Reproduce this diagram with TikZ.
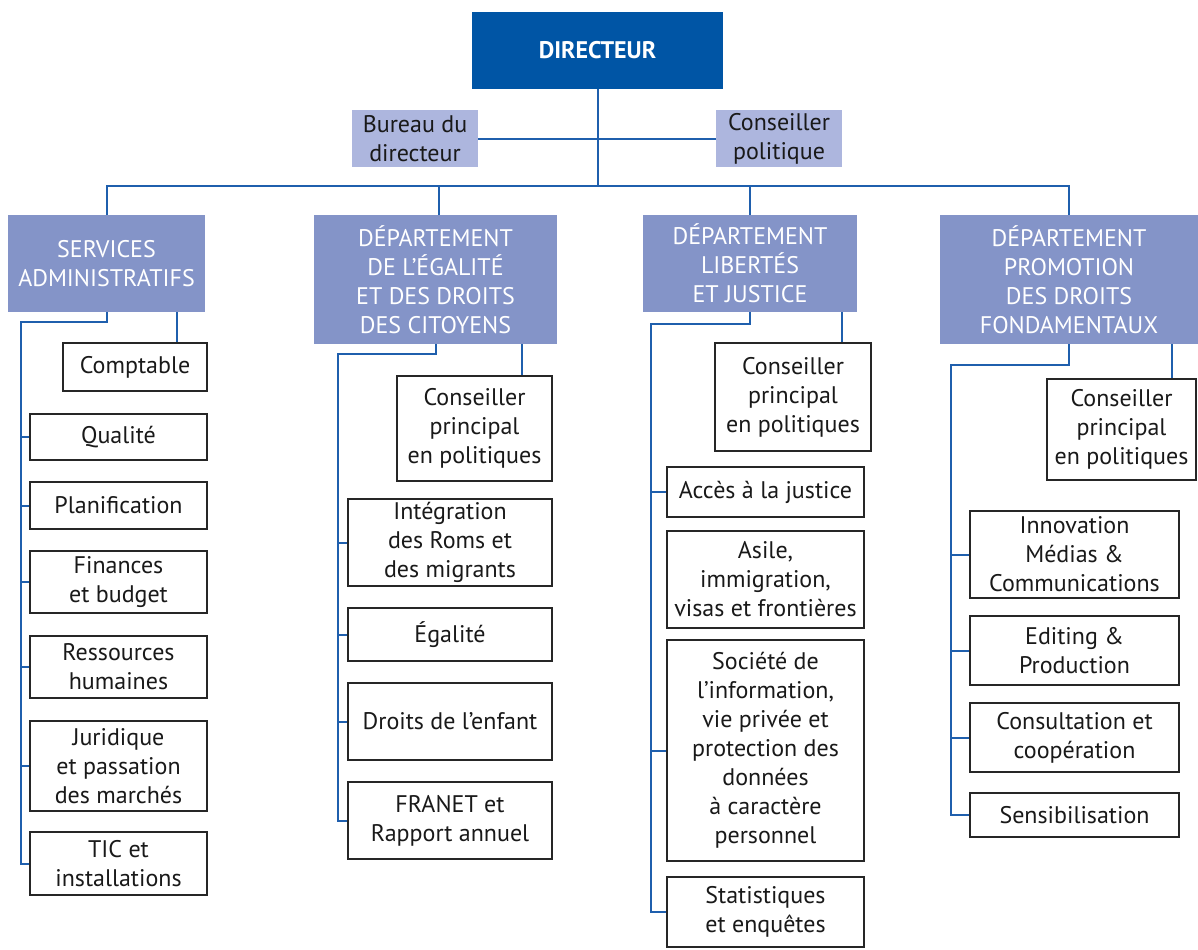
\documentclass[tikz,border=0pt]{standalone}
\usepackage{fontspec}
\setmainfont{PT Sans}
\usepackage{tikz}
\usetikzlibrary{calc}
\definecolor{chiefblue}{HTML}{0055A5}
\definecolor{deptblue}{HTML}{8494C8}
\definecolor{staffblue}{HTML}{ADB6DE}
\definecolor{linkblue}{HTML}{1F5FAD}
\tikzset{
  chief/.style 2 args={fill=chiefblue, text=white, font=\fontsize{12}{14}\selectfont\bfseries,
    minimum width=#1*0.5pt, minimum height=#2*0.5pt, inner sep=1pt},
  deptbox/.style 2 args={fill=deptblue, text=white, align=center,
    minimum width=#1*0.5pt, minimum height=#2*0.5pt, inner sep=1pt},
  staffbox/.style 2 args={fill=staffblue, text=black!90, align=center,
    minimum width=#1*0.5pt, minimum height=#2*0.5pt, inner sep=1pt},
  unitbox/.style 2 args={draw=black!85, line width=1pt, fill=white, text=black!90, align=center,
    minimum width=#1*0.5pt, minimum height=#2*0.5pt, inner sep=1pt},
  link/.style={draw=linkblue, line width=1pt}
}
\begin{document}
\begin{tikzpicture}[x=0.5pt, y=-0.5pt, font=\fontsize{12}{14.5}\selectfont]
			\useasboundingbox (0,0) rectangle (1198,949);
			%%%%% TOP %%%%%
			\node[chief={251}{77}] (dir) at (597.5,50.5) {DIRECTEUR};
			\node[staffbox={126}{57}] (bur) at (415,138.5) {Bureau du\\directeur};
			\node[staffbox={126}{57}] (pol) at (779,138.5) {Conseiller\\politique};
			\coordinate (bus) at (597.5,186);
			
			\node[deptbox={197}{97}] (srv) at (106.5,263.5) {SERVICES\\ADMINISTRATIFS};
			\node[deptbox={243}{129}] (ega) at (435.5,279.5) {DÉPARTEMENT\\DE L’ÉGALITÉ\\ET DES DROITS\\DES CITOYENS};
			\node[deptbox={214}{97}] (lib) at (750,263.5) {DÉPARTEMENT\\LIBERTÉS\\ET JUSTICE};
			\node[deptbox={258}{129}] (pro) at (1069,279.5) {DÉPARTEMENT\\PROMOTION\\DES DROITS\\FONDAMENTAUX};
			\coordinate (egaT) at (439,215);
			
			\draw[link] (bur) -- (pol);
			\draw[link] (dir.south) -- (bus);
			\draw[link] (srv.north) |- (bus) -| (pro.north);
			\draw[link] (egaT) -- (egaT |- bus);
			\draw[link] (lib.north) -- (lib.north |- bus);
			
			%%%%% SERVICES %%%%%
			\node[unitbox={144}{48}] (cpt) at (135,367) {Comptable};
			\node[unitbox={177}{46}] (qua) at (118.5,437) {Qualité};
			\node[unitbox={177}{47}] (pla) at (118.5,505.5) {Planification};
			\node[unitbox={177}{62}] (fin) at (118.5,582) {Finances\\et budget};
			\node[unitbox={177}{62}] (rh) at (118.5,667) {Ressources\\humaines};
			\node[unitbox={177}{90}] (jur) at (118.5,766) {Juridique\\et passation\\des marchés};
			\node[unitbox={177}{63}] (tic) at (118.5,863.5) {TIC et\\installations};
			\coordinate (srvL) at (21,322);
			\coordinate (srvR) at (176.5,312);
			\draw[link] (srv.south) |- (srvL) -- (srvL |- tic.west) -- (tic.west);
			\foreach \u in {qua,pla,fin,rh,jur}
				\draw[link] (srvL |- \u.west) -- (\u.west);
			\draw[link] (srvR) -- (srvR |- cpt.north);
			
			%%%%% EGALITE %%%%%
			\node[unitbox={155}{105}] (cpe) at (474.5,428.5) {Conseiller\\principal\\en politiques};
			\node[unitbox={204}{87}] (int) at (450,542.5) {Intégration\\des Roms et\\des migrants};
			\node[unitbox={204}{53}] (egl) at (450,634.5) {Égalité};
			\node[unitbox={204}{77}] (enf) at (450,721.5) {Droits de l’enfant};
			\node[unitbox={204}{77}] (fra) at (450,820.5) {FRANET et\\Rapport annuel};
			\coordinate (egaL) at (338,354);
			\coordinate (egaR) at (522,344);
			\draw[link] (ega.south) |- (egaL) -- (egaL |- fra.west) -- (fra.west);
			\foreach \u in {int,egl,enf}
				\draw[link] (egaL |- \u.west) -- (\u.west);
			\draw[link] (egaR) -- (egaR |- cpe.north);
			
			%%%%% LIBERTES %%%%%
			\node[unitbox={156}{108}] (cpl) at (793,397) {Conseiller\\principal\\en politiques};
			\node[unitbox={197}{50}] (acc) at (765.5,492) {Accès à la justice};
			\node[unitbox={197}{97}] (asi) at (765.5,579.5) {Asile,\\immigration,\\visas et frontières};
			\node[unitbox={197}{221}] (soc) at (765.5,750.5) {Société de\\l’information,\\vie privée et\\protection des\\données\\à caractère\\personnel};
			\node[unitbox={197}{70}] (sta) at (765.5,912) {Statistiques\\et enquêtes};
			\coordinate (libL) at (651,324);
			\coordinate (libR) at (842,312);
			\draw[link] (lib.south) |- (libL) -- (libL |- sta.west) -- (sta.west);
			\foreach \u in {acc,soc}
				\draw[link] (libL |- \u.west) -- (\u.west);
			\draw[link] (libR) -- (libR |- cpl.north);
			
			%%%%% PROMOTION %%%%%
			\node[unitbox={149}{101}] (cpp) at (1121.5,429.5) {Conseiller\\principal\\en politiques};
			\node[unitbox={209}{87}] (inn) at (1074.5,554.5) {Innovation\\Médias \&\\Communications};
			\node[unitbox={209}{69}] (edi) at (1074.5,650.5) {Editing \&\\Production};
			\node[unitbox={209}{69}] (con) at (1074.5,737.5) {Consultation et\\coopération};
			\node[unitbox={209}{44}] (sen) at (1074.5,815) {Sensibilisation};
			\coordinate (proL) at (951,365);
			\coordinate (proR) at (1172,344);
			\draw[link] (pro.south) |- (proL) -- (proL |- sen.west) -- (sen.west);
			\foreach \u in {inn,edi,con}
				\draw[link] (proL |- \u.west) -- (\u.west);
			\draw[link] (proR) -- (proR |- cpp.north);
\end{tikzpicture}
\end{document}
